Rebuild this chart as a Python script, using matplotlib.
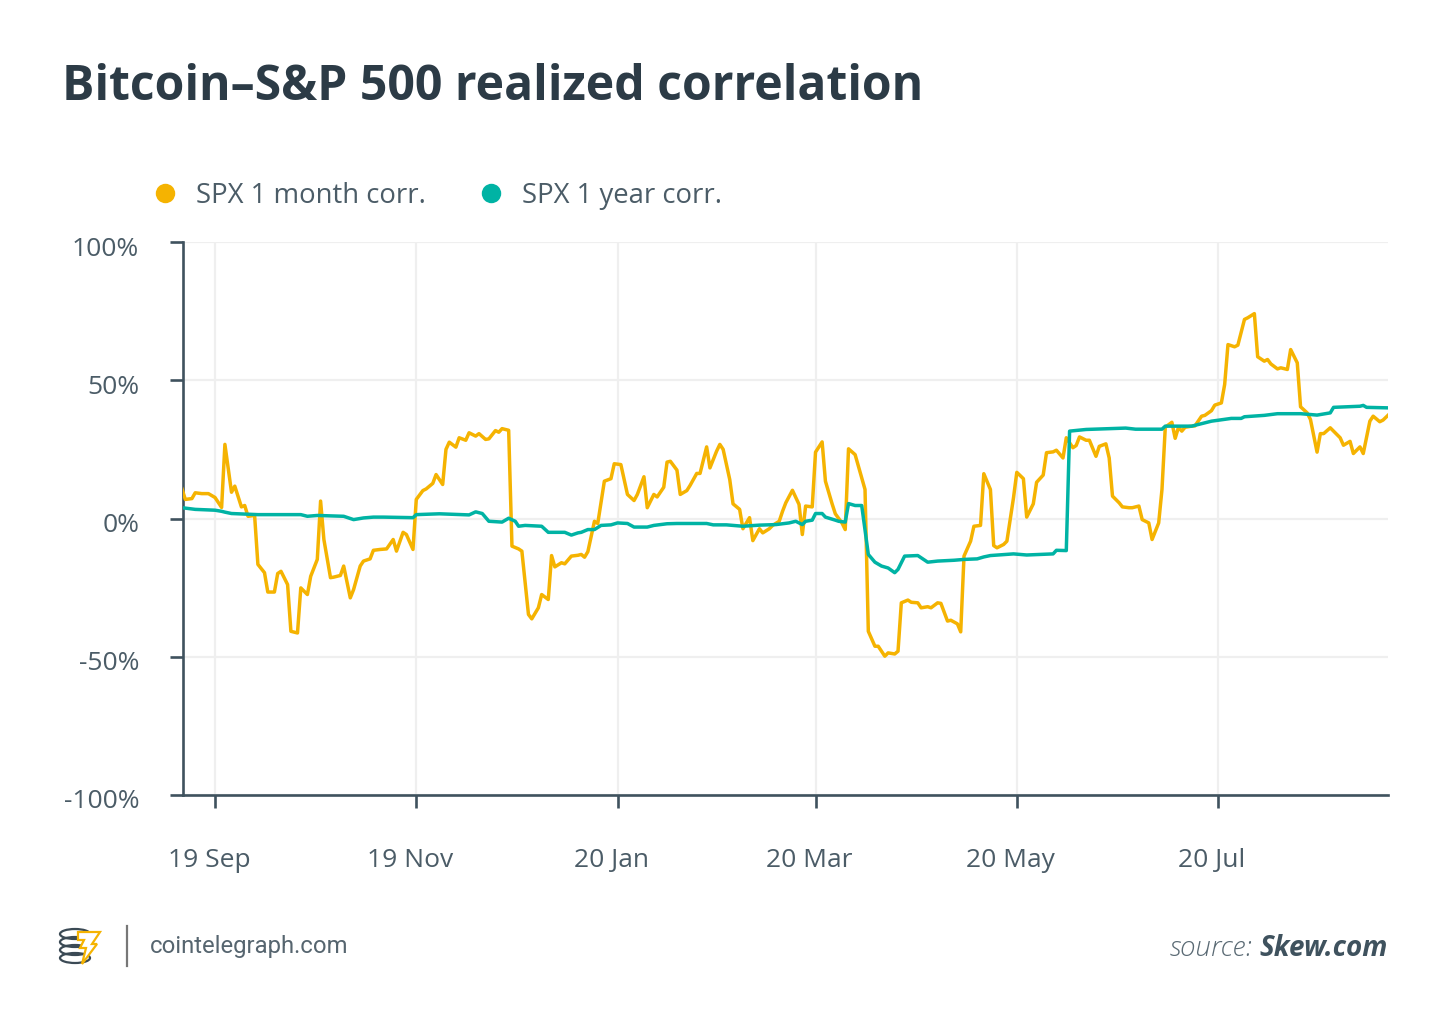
import matplotlib
matplotlib.use("Agg")
import matplotlib.pyplot as plt
import matplotlib.dates as mdates
import matplotlib.transforms as mtransforms
from matplotlib.patches import Ellipse, Polygon
import pandas as pd

# ---------------- data ----------------
base_date = "2019-09-01"
# day offsets from base_date
month_days = [-10, -9, -7, -6, -4, -2, 0, 2, 3, 5, 6, 8, 9, 10, 12, 13, 15, 16, 18, 19,
              20, 22, 23, 25, 26, 28, 29, 31, 32, 33, 35, 36, 38, 39, 41, 42, 44, 45, 47, 48,
              50, 52, 54, 55, 57, 58, 60, 61, 63, 64, 66, 67, 69, 70, 71, 73, 74, 76, 77, 79,
              80, 82, 83, 85, 86, 87, 89, 90, 92, 93, 95, 96, 98, 99, 101, 102, 103, 105, 106, 108,
              110, 111, 112, 113, 115, 116, 118, 120, 121, 123, 124, 125, 127, 128, 130, 131, 133, 134, 136, 137,
              138, 140, 141, 143, 144, 146, 147, 149, 150, 152, 153, 154, 156, 157, 159, 160, 162, 163, 165, 166,
              168, 169, 171, 172, 173, 175, 177, 178, 179, 181, 182, 184, 185, 187, 188, 190, 191, 192, 194, 195,
              197, 198, 200, 201, 203, 204, 206, 207, 208, 210, 211, 213, 214, 216, 217, 219, 220, 222, 223, 225,
              226, 227, 229, 230, 232, 233, 235, 236, 237, 239, 240, 242, 243, 245, 246, 248, 249, 251, 252, 254,
              255, 257, 258, 260, 261, 262, 264, 265, 267, 268, 270, 271, 272, 274, 275, 277, 278, 280, 281, 283,
              284, 286, 287, 288, 290, 291, 292, 293, 294, 296, 297, 299, 300, 302, 303, 305, 306, 307, 309, 310,
              312, 313, 315, 316, 318, 319, 320, 322, 323, 325, 326, 328, 329, 331, 332, 334, 335, 336, 338, 339,
              341, 342, 344, 345, 347, 348, 350, 351, 353, 354, 356]
month_corr = [10.7, 6.9, 7.2, 9.3, 9.0, 9.0, 7.6, 4.0, 26.8, 9.5, 11.7, 4.2, 4.7, 0.8, 1.1, -16.6, -19.6, -26.6, -26.6, -19.9,
              -19.1, -23.9, -40.8, -41.4, -25.1, -27.5, -20.9, -14.8, 6.3, -7.6, -21.4, -21.2, -20.6, -17.2, -28.7, -25.7, -17.2, -15.4, -14.6, -11.5,
              -11.2, -11.0, -7.6, -11.8, -5.0, -5.8, -11.2, 6.9, 10.1, 10.7, 12.7, 15.9, 12.3, 25.0, 27.6, 25.8, 29.2, 28.3, 31.0, 29.8,
              30.7, 28.6, 28.8, 31.8, 31.2, 32.5, 31.9, -10.0, -11.0, -11.8, -34.7, -36.3, -32.3, -27.5, -29.3, -13.4, -17.5, -16.0, -16.4, -13.6,
              -13.3, -13.0, -14.0, -12.0, -1.0, -1.8, 13.5, 14.4, 19.8, 19.5, 14.1, 8.7, 6.5, 8.7, 15.1, 3.9, 8.7, 7.8, 11.3, 20.4,
              20.7, 17.5, 8.7, 10.1, 12.0, 16.3, 16.3, 25.9, 18.3, 24.3, 26.8, 25.0, 14.1, 5.3, 3.3, -3.7, 0.3, -8.0, -3.7, -5.2,
              -3.7, -2.5, -1.0, 2.6, 5.7, 10.2, 5.1, -5.8, 4.5, 4.2, 24.0, 27.7, 13.5, 5.4, 1.7, -1.6, -4.0, 25.2, 23.1, 18.9,
              10.5, -40.8, -46.2, -46.2, -49.8, -48.6, -49.0, -48.0, -30.5, -29.5, -30.3, -30.5, -32.3, -31.9, -32.3, -30.5, -30.7, -37.1, -36.8, -38.1,
              -41.0, -13.6, -8.2, -2.8, -2.5, 16.2, 10.5, -9.8, -10.6, -9.4, -8.2, 7.5, 16.7, 14.4, 0.5, 5.3, 13.1, 15.7, 23.8, 24.1,
              24.7, 21.9, 29.2, 25.6, 26.4, 29.5, 28.3, 28.3, 22.5, 26.1, 27.0, 21.9, 8.1, 5.7, 4.2, 3.9, 3.9, 4.5, -0.4, -1.6,
              -7.6, -1.6, 10.5, 33.0, 34.8, 29.0, 33.0, 31.6, 33.0, 33.4, 33.5, 37.0, 37.3, 39.0, 41.0, 41.8, 48.5, 62.9, 62.1, 62.7,
              72.0, 72.6, 74.1, 58.5, 56.9, 57.5, 55.9, 54.1, 54.5, 53.9, 61.1, 56.3, 40.4, 38.2, 35.8, 24.0, 30.7, 30.7, 32.8, 31.6,
              29.2, 26.5, 27.9, 23.5, 25.9, 23.5, 35.2, 37.0, 35.0, 35.6, 37.9]

year_days = [-10, -6, 0, 2, 3, 5, 13, 26, 28, 31, 39, 42, 45, 48, 51, 60, 61, 68, 77, 79,
             81, 83, 87, 89, 91, 92, 94, 99, 101, 106, 108, 110, 111, 113, 115, 117, 120, 122, 125, 127,
             131, 133, 137, 140, 149, 151, 155, 160, 165, 170, 174, 176, 178, 179, 181, 182, 184, 185, 188, 189,
             191, 192, 194, 196, 198, 200, 202, 204, 206, 207, 209, 213, 216, 219, 224, 227, 231, 233, 235, 242,
             246, 254, 255, 258, 259, 264, 276, 279, 287, 288, 296, 298, 302, 308, 311, 312, 318, 322, 329, 334,
             338, 339, 347, 348, 349, 356]
year_corr = [3.9, 3.3, 3.0, 2.6, 2.3, 1.8, 1.4, 1.4, 0.8, 1.1, 0.8, -0.4, 0.2, 0.5, 0.5, 0.3, 1.4, 1.7, 1.3, 2.4,
             1.8, -1.0, -1.3, 0.1, -1.0, -2.8, -2.5, -2.8, -5.0, -5.0, -6.0, -5.2, -5.0, -4.0, -4.0, -2.5, -2.3, -1.6, -1.8, -3.1,
             -3.1, -2.5, -1.9, -1.8, -1.8, -2.3, -2.3, -2.8, -2.4, -2.2, -1.6, -1.0, -2.2, -1.0, -0.6, 1.8, 1.8, 0.5, -0.6, -1.0,
             -1.3, 5.4, 4.7, 4.7, -13.0, -15.8, -17.2, -17.9, -19.6, -18.4, -13.6, -13.4, -15.8, -15.4, -15.1, -14.8, -14.6, -13.9, -13.4, -12.8,
             -13.2, -12.8, -11.5, -11.6, 31.6, 32.2, 32.7, 32.3, 32.3, 33.4, 33.4, 34.0, 35.2, 36.2, 36.2, 36.8, 37.3, 37.9, 37.9, 37.4,
             38.2, 40.2, 40.6, 40.9, 40.2, 40.0]

series_names = ["SPX 1 month corr.", "SPX 1 year corr."]
tick_dates = ["2019-09-01", "2019-11-01", "2020-01-01", "2020-03-01", "2020-05-01", "2020-07-01"]
tick_labels = ["19 Sep", "19 Nov", "20 Jan", "20 Mar", "20 May", "20 Jul"]
y_ticks = [-100, -50, 0, 50, 100]
y_labels = ["-100%", "-50%", "0%", "50%", "100%"]
title = "Bitcoin–S&P 500 realized correlation"

# ---------------- style ----------------
YELLOW = "#f5b301"
TEAL = "#00b3a4"
DARK = "#2c3b46"
AXIS = "#3f525e"
TICKTXT = "#4b5c67"
GRID = "#efefef"

W, H = 1450, 1026
fig = plt.figure(figsize=(W / 100, H / 100), dpi=100)
fig.patch.set_facecolor("white")

def fx(px):
    return px / W

def fy(py):
    return 1 - py / H

ax = fig.add_axes([fx(183), fy(795), fx(1388) - fx(183), fy(242) - fy(795)])

base = pd.Timestamp(base_date)
m_dates = mdates.date2num((base + pd.to_timedelta(month_days, unit="D")).to_pydatetime())
y_dates = mdates.date2num((base + pd.to_timedelta(year_days, unit="D")).to_pydatetime())

ax.plot(m_dates, month_corr, color=YELLOW, lw=2.5, zorder=3)
ax.plot(y_dates, year_corr, color=TEAL, lw=2.5, zorder=4)

x0 = mdates.date2num(base + pd.Timedelta(days=-9.7))
x1 = mdates.date2num(base + pd.Timedelta(days=355.5))
ax.set_xlim(x0, x1)
ax.set_ylim(-100, 100)

tk = mdates.date2num(pd.to_datetime(tick_dates).to_pydatetime())
ax.set_xticks(tk)
ax.set_xticklabels(tick_labels)
ax.set_yticks(y_ticks)
ax.set_yticklabels(y_labels)

for s in ["top", "right"]:
    ax.spines[s].set_visible(False)
for s in ["left", "bottom"]:
    ax.spines[s].set_color(AXIS)
    ax.spines[s].set_linewidth(1.9)

ax.tick_params(axis="x", direction="out", length=9, width=1.9, color=AXIS,
               pad=29, labelsize=19, labelcolor=TICKTXT)
ax.tick_params(axis="y", direction="out", length=9.5, width=1.9, color=AXIS,
               pad=22, labelsize=19, labelcolor=TICKTXT)
shift = mtransforms.ScaledTranslation(-6 / 100, 0, fig.dpi_scale_trans)
for lab in ax.get_xticklabels():
    lab.set_family("Open Sans")
    lab.set_transform(lab.get_transform() + shift)
ydown = mtransforms.ScaledTranslation(0, -4 / 100, fig.dpi_scale_trans)
for lab in ax.get_yticklabels():
    lab.set_family("Open Sans")
    lab.set_transform(lab.get_transform() + ydown)

ax.grid(True, color=GRID, lw=1.6, zorder=0)
ax.set_axisbelow(True)

# title
fig.text(fx(62), fy(100), title, fontsize=34.7, fontweight="bold", family="Open Sans",
         color=DARK, ha="left", va="baseline")

# legend
leg_y = 193
for cx, tx, col, name in [(165, 196, YELLOW, series_names[0]), (491, 522, TEAL, series_names[1])]:
    fig.add_artist(plt.Line2D([fx(cx)], [fy(leg_y)], marker="o", markersize=14,
                              color=col, markeredgewidth=0, transform=fig.transFigure))
    fig.text(fx(tx), fy(leg_y + 3), name, fontsize=19.8, family="Open Sans", color=TICKTXT,
             ha="left", va="center")

# footer: simple logo
lx, ly = 75, 945
for i, dy in enumerate([-11, -3, 5, 13]):
    e = Ellipse((fx(lx), fy(ly + dy)), fx(30), fy(0) - fy(10), fill=False,
                edgecolor="#3b4a55", lw=1.6, transform=fig.transFigure)
    fig.add_artist(e)
bolt = [(78, 932), (100, 932), (92, 944), (97, 944), (82, 964), (86, 948), (80, 948), (84, 940), (78, 940)]
fig.add_artist(Polygon([(fx(a), fy(b)) for a, b in bolt], closed=True, facecolor="white",
                       edgecolor=YELLOW, lw=1.6, transform=fig.transFigure))
fig.add_artist(plt.Line2D([fx(127), fx(127)], [fy(926), fy(966)], color="#777777", lw=1.6,
                          transform=fig.transFigure))
fig.text(fx(150), fy(946), "cointelegraph.com", fontsize=17.2, family="Roboto",
         color="#56656f", ha="left", va="center")

t2 = fig.text(fx(1388), fy(948), "Skew.com", fontsize=20, family="Open Sans",
              fontweight="bold", style="italic", color="#3f525e", ha="right", va="center")
fig.canvas.draw()
bb = t2.get_window_extent()
fig.text(bb.x0 / W - fx(7), fy(948), "source:", fontsize=20, family="Open Sans",
         fontweight="light", style="italic", color="#5a6a74", ha="right", va="center")

fig.savefig("out.png", dpi=100, facecolor="white")
